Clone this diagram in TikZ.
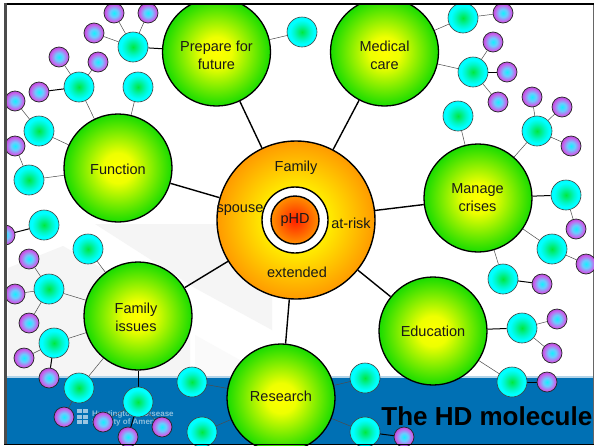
\documentclass[tikz,border=0pt]{standalone}
\usepackage{fontspec}
\setmainfont{Liberation Sans}
\pgfdeclarelayer{bgl}
\pgfdeclarelayer{edgel}
\pgfdeclarelayer{topl}
\pgfsetlayers{bgl,edgel,main,topl}
\definecolor{bandblue}{HTML}{0070B4}
\definecolor{wm}{HTML}{F5F5F5}
\definecolor{ga}{HTML}{FFFF00}
\definecolor{gb}{HTML}{EEFF00}
\definecolor{gc}{HTML}{18DC00}
\definecolor{ca}{HTML}{00E840}
\definecolor{cb}{HTML}{00F6C8}
\definecolor{cc}{HTML}{00FFFF}
\definecolor{pa}{HTML}{14F0FF}
\definecolor{pb}{HTML}{70C8FF}
\definecolor{pc}{HTML}{C468EC}
\definecolor{pd}{HTML}{B848DC}
\definecolor{oa}{HTML}{FFF500}
\definecolor{ob}{HTML}{FFE800}
\definecolor{oc}{HTML}{FF9A00}
\definecolor{ra}{HTML}{FF1E00}
\definecolor{rb}{HTML}{FF9000}
\pgfdeclareradialshading{ballgreen}{\pgfpoint{0bp}{0bp}}{color(0bp)=(ga); color(7bp)=(gb); color(25bp)=(gc); color(50bp)=(gc)}
\pgfdeclareradialshading{ballcyan}{\pgfpoint{0bp}{0bp}}{color(0bp)=(ca); color(13bp)=(cb); color(20bp)=(cc); color(50bp)=(cc)}
\pgfdeclareradialshading{ballpurple}{\pgfpoint{0bp}{0bp}}{color(0bp)=(pa); color(10bp)=(pb); color(20bp)=(pc); color(25bp)=(pd); color(50bp)=(pd)}
\pgfdeclareradialshading{ballorange}{\pgfpoint{0bp}{0bp}}{color(0bp)=(oa); color(11bp)=(ob); color(25bp)=(oc); color(50bp)=(oc)}
\pgfdeclareradialshading{ballred}{\pgfpoint{0bp}{0bp}}{color(0bp)=(ra); color(25bp)=(rb); color(50bp)=(rb)}
\tikzset{
  ball/.style={circle,inner sep=0pt,draw},
  gn/.style={ball,shading=ballgreen,minimum size=108pt,line width=1.3pt},
  cy/.style={ball,shading=ballcyan,minimum size=30pt,draw=black!75,line width=.6pt},
  pu/.style={ball,shading=ballpurple,minimum size=20pt,draw=black!85,line width=.7pt},
  lab/.style={font=\fontsize{14.5}{18}\selectfont,align=center,text=black!90,inner sep=0pt},
  main/.style={line width=1.4pt,black},
  blk/.style={line width=1pt,black},
  thin/.style={line width=.5pt,black!70},
}
\begin{document}
\begin{tikzpicture}[x=1pt,y=-1pt]
\useasboundingbox (0,0) rectangle (594,445);
\begin{pgfonlayer}{bgl}
  \fill[white] (0,0) rectangle (594,445);
  \fill[wm] (95,224) -- (272,224) -- (272,330) -- (195,288) -- cycle;
  \fill[wm] (8,268) -- (63,246) -- (190,318) -- (190,378) -- (8,378) -- cycle;
  \fill[wm!50!white] (195,335) -- (272,378) -- (195,378) -- cycle;
  \fill[bandblue!30!white] (5,376) rectangle (594,378);
  \fill[bandblue] (5,378) rectangle (594,445);
  \foreach \xa in {77,83}{\foreach \ya in {409,414.5,420}{
    \fill[white,opacity=.6] (\xa,\ya) rectangle ++(4.5,4.2);}}
  \node[anchor=west,inner sep=0pt,text=white,opacity=.55,font=\fontsize{8}{9}\selectfont\bfseries] (logoa) at (92,414) {Huntington's Disease};
  \node[anchor=west,inner sep=0pt,text=white,opacity=.55,font=\fontsize{8}{9}\selectfont\bfseries] (logob) at (92,422.5) {Society of America};
  \draw[black!60,line width=.8pt] (593.5,3) -- (593.5,445);
\end{pgfonlayer}

% centre
\node[ball,shading=ballorange,minimum size=158pt,line width=1.4pt] (C) at (296,220) {};
\node[ball,fill=white,minimum size=66pt,line width=1.4pt] (W) at (295,220) {};
\node[ball,shading=ballred,minimum size=48pt,line width=1.4pt] (R) at (295,220) {};
\node[lab] (lf) at (296,168) {Family};
\node[lab] (ls) at (240,210) {spouse};
\node[lab] (lp) at (295,220) {pHD};
\node[lab] (la) at (351,223) {at-risk};
\node[lab] (le) at (297,272) {extended};

% green
\node[gn] (pf) at (216.5,52) {};
\node[gn] (mc) at (384.5,52) {};
\node[gn] (fn) at (118,168) {};
\node[gn] (mg) at (478,198) {};
\node[gn] (fi) at (138,316) {};
\node[gn] (ed) at (433,331) {};
\node[gn] (rs) at (281,398) {};
\node[lab] (lpf) at (216.5,55.5) {Prepare for\\future};
\node[lab] (lmc) at (384.5,55.5) {Medical\\care};
\node[lab] (lfn) at (118,169) {Function};
\node[lab] (lmg) at (477.5,198) {Manage\\crises};
\node[lab] (lfi) at (136,317) {Family\\issues};
\node[lab] (led) at (433,331) {Education};
\node[lab] (lrs) at (281,396) {Research};

% cyan
\foreach \n/\x/\y in {c1/133/47,c2/79/87,c3/138/87,c4/39/131,c5/29/180,c6/44/225,c7/88/249,c8/49/289,c9/54/343,c10/79/388,c11/138/402,c12/192/382,c13/202/432,c14/302/32,c15/463/18,c16/473/72,c17/458/116,c18/537/131,c19/566/195,c20/552/249,c21/503/279,c22/522/328,c23/512/382,c24/365/378,c25/365/432}
  \node[cy] (\n) at (\x,\y) {};
% purple
\foreach \n/\x/\y in {p1/114/13,p2/148/13,p3/94/33,p4/59/57,p5/98/62,p6/39/92,p7/15/101,p8/15/146,p9/5/235,p10/29/259,p11/15/294,p12/29/323,p13/24/358,p14/49/378,p15/64/417,p16/103/422,p17/128/437,p18/162/427,p19/503/13,p20/493/42,p21/507/72,p22/498/102,p23/532/97,p24/562/107,p25/571/146,p26/576/229,p27/586/264,p28/542/284,p29/557/319,p30/552/353,p31/547/382,p32/404/437}
  \node[pu] (\n) at (\x,\y) {};

\begin{pgfonlayer}{edgel}
  \foreach \a in {pf,mc,fn,mg,fi,ed,rs} \draw[main] (C) -- (\a);
  \foreach \a/\b in {c1/pf,c2/p6,c6/p9,c9/p14,c11/fi,c11/p17,c16/p21,c19/mg,c21/p28,c22/ed,c23/p31,c25/p32}
    \draw[blk] (\a) -- (\b);
  \foreach \a/\b in {c1/p1,c1/p2,c1/p3,c2/fn,c2/p4,c2/p5,c3/fn,c4/fn,c4/p7,c5/fn,c5/p8,c7/fi,c8/fi,c8/p10,c8/p11,c8/p12,c9/fi,c9/p13,c10/fi,c10/p15,c11/p16,c11/p18,c12/rs,c13/rs,c14/pf,c15/mc,c15/p19,c16/mc,c16/p20,c16/p22,c17/mg,c18/mg,c18/p23,c18/p24,c18/p25,c19/p26,c20/mg,c20/p27,c21/mg,c22/p29,c22/p30,c23/ed,c24/rs,c25/rs}
    \draw[thin] (\a) -- (\b);
\end{pgfonlayer}

\begin{pgfonlayer}{topl}
  \fill[white] (0,0) rectangle (594,3);
  \fill[white] (0,0) rectangle (4,445);
  \fill[black] (4,3) rectangle (594,5);
  \fill[black!70] (4,3) rectangle (6.5,445);
  \fill[black] (4,443.7) rectangle (594,445);
  \node[anchor=east,inner sep=0pt,font=\fontsize{26}{28}\selectfont\bfseries,text=black] (title) at (592.5,416) {The HD molecule};
\end{pgfonlayer}
\end{tikzpicture}
\end{document}
